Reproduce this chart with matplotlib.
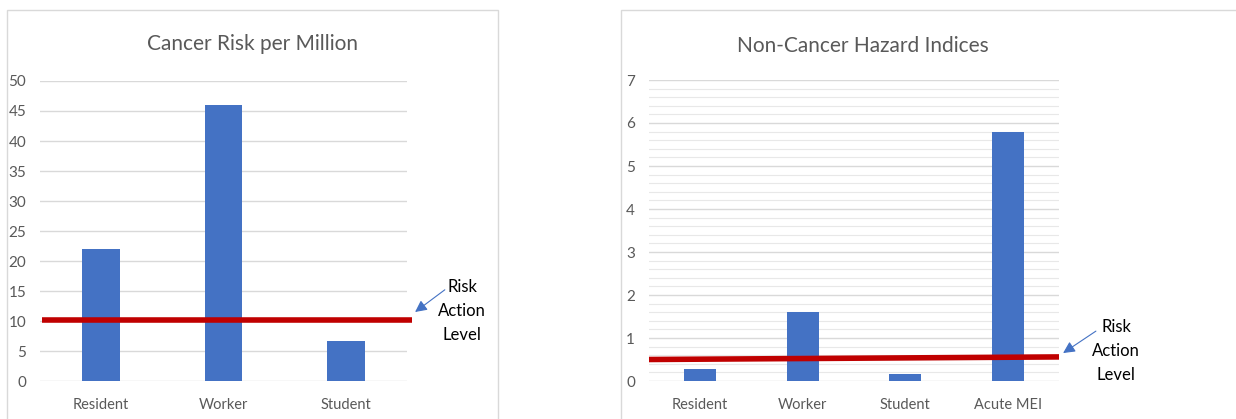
import matplotlib.pyplot as plt
from matplotlib.patches import Rectangle
from matplotlib.transforms import blended_transform_factory
from matplotlib.ticker import MultipleLocator

plt.rcParams['font.family'] = ['Lato', 'DejaVu Sans']

# cancer risk chart
cancer_cats = ['Resident', 'Worker', 'Student']
cancer_vals = [22, 46, 6.6]
cancer_level = [10.2, 10.2]

# non-cancer hazard chart
hazard_cats = ['Resident', 'Worker', 'Student', 'Acute MEI']
hazard_vals = [0.27, 1.6, 0.16, 5.8]
hazard_level = [0.5, 0.56]

BLUE = '#4472C4'
RED = '#C00000'
GRID = '#d9d9d9'
TXT = '#595959'

W, H = 1236, 419
fig = plt.figure(figsize=(W / 100, H / 100), dpi=100)


def px_axes(x0, y0, x1, y1):
    # axes from pixel box (top-left origin)
    return fig.add_axes([x0 / W, 1 - y1 / H, (x1 - x0) / W, (y1 - y0) / H])


# panel frames
fig.patches.append(Rectangle((7 / W, -0.01), 491 / W, 1 - 10 / H + 0.01,
                             transform=fig.transFigure, fill=False,
                             edgecolor=GRID, lw=1))
fig.patches.append(Rectangle((621 / W, -0.01), 1, 1 - 10 / H + 0.01,
                             transform=fig.transFigure, fill=False,
                             edgecolor=GRID, lw=1))


def style(ax, cats):
    for s in ax.spines.values():
        s.set_visible(False)
    ax.set_xticks(range(len(cats)))
    ax.set_xticklabels(cats)
    ax.set_xlim(-0.5, len(cats) - 0.5)
    ax.tick_params(length=0, colors=TXT, labelsize=10.5)
    ax.tick_params(axis='y', labelsize=11)
    ax.tick_params(axis='x', pad=12)
    ax.tick_params(axis='y', pad=10)
    ax.set_axisbelow(True)
    ax.grid(axis='y', which='major', color=GRID, lw=1)


arrow = dict(arrowstyle='-|>,head_length=0.7,head_width=0.35',
             color=BLUE, lw=0.8, shrinkA=0, shrinkB=0)

# left chart
ax1 = px_axes(40, 81, 407, 381)
ax1.bar(range(len(cancer_cats)), cancer_vals, width=0.31, color=BLUE)
ax1.set_ylim(0, 50)
ax1.yaxis.set_major_locator(MultipleLocator(5))
style(ax1, cancer_cats)
tr1 = blended_transform_factory(ax1.transAxes, ax1.transData)
ax1.plot([0.005, 1.013], cancer_level, color=RED, lw=4, transform=tr1,
         clip_on=False, solid_capstyle='butt')
ax1.set_title('Cancer Risk per Million', fontsize=15, color=TXT, pad=22,
              x=0.578)
ax1.text(1.15, 11.7, 'Risk\nAction\nLevel', transform=tr1, ha='center',
         va='center', fontsize=12, linespacing=1.6, color='black')
ax1.annotate('', xy=(1.022, 11.5), xycoords=tr1, xytext=(1.103, 15.2),
             textcoords=tr1, arrowprops=arrow)

# right chart
ax2 = px_axes(649, 80, 1059, 381)
ax2.bar(range(len(hazard_cats)), hazard_vals, width=0.31, color=BLUE)
ax2.set_ylim(0, 7)
ax2.yaxis.set_major_locator(MultipleLocator(1))
ax2.yaxis.set_minor_locator(MultipleLocator(0.2))
style(ax2, hazard_cats)
ax2.tick_params(axis='y', which='minor', length=0)
ax2.grid(axis='y', which='minor', color='#e8e8e8', lw=0.8)
tr2 = blended_transform_factory(ax2.transAxes, ax2.transData)
ax2.plot([0.0, 1.0], hazard_level, color=RED, lw=4, transform=tr2,
         clip_on=False, solid_capstyle='butt')
ax2.set_title('Non-Cancer Hazard Indices', fontsize=15, color=TXT, pad=20,
              x=0.522)
ax2.text(1.139, 0.70, 'Risk\nAction\nLevel', transform=tr2, ha='center',
         va='center', fontsize=12, linespacing=1.6, color='black')
ax2.annotate('', xy=(1.01, 0.65), xycoords=tr2, xytext=(1.09, 1.16),
             textcoords=tr2, arrowprops=arrow)

fig.savefig('out.png', dpi=100)
